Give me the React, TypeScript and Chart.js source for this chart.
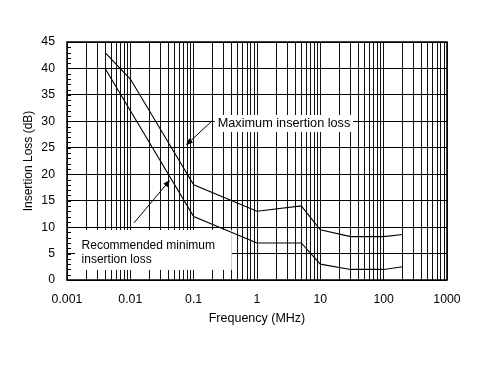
import { useEffect, useRef } from 'react';
import { Chart, registerables } from 'chart.js';

Chart.register(...registerables);

// Data (frequency in MHz, insertion loss in dB)
const maxFreq = [0.004, 0.01, 0.1, 1, 5, 10, 30, 100, 200];
const maxLoss = [43, 38, 18, 13, 14, 9.5, 8.2, 8.2, 8.6];
const minFreq = [0.004, 0.1, 1, 5, 10, 30, 100, 200];
const minLoss = [40, 12, 7, 7, 3, 2, 2, 2.5];

const xTickLabels = ['0.001', '0.01', '0.1', '1', '10', '100', '1000'];
const yTickLabels = ['0', '5', '10', '15', '20', '25', '30', '35', '40', '45'];

// Annotations (data coordinates)
const maxLabelText = ['Maximum insertion loss'];
const maxLabelBox = [0.215, 33, 31.2, 28.0]; // xFrom, xTo, yTop, yBottom
const maxLabelAnchor = [0.24, 29.6];
const maxArrow = [0.202, 30.25, 0.0757, 25.5]; // tail x,y -> head x,y

const minLabelText = ['Recommended minimum', 'insertion loss'];
const minLabelBox = [0.00134, 0.4, 9.45, 1.9];
const minLabelAnchor = [0.0017, 6.4, 3.9];
const minArrow = [0.01143, 10.8, 0.0423, 18.9];

const FONT = '"Liberation Sans", Arial, Helvetica, sans-serif';

function drawArrow(ctx: CanvasRenderingContext2D, x1: number, y1: number, x2: number, y2: number) {
  const ang = Math.atan2(y2 - y1, x2 - x1);
  const len = 7;
  const half = 2.8;
  ctx.beginPath();
  ctx.moveTo(x1, y1);
  ctx.lineTo(x2 - Math.cos(ang) * len * 0.8, y2 - Math.sin(ang) * len * 0.8);
  ctx.stroke();
  ctx.beginPath();
  ctx.moveTo(x2, y2);
  ctx.lineTo(x2 - Math.cos(ang) * len - Math.sin(ang) * half, y2 - Math.sin(ang) * len + Math.cos(ang) * half);
  ctx.lineTo(x2 - Math.cos(ang) * len + Math.sin(ang) * half, y2 - Math.sin(ang) * len - Math.cos(ang) * half);
  ctx.closePath();
  ctx.fill();
}

const annotPlugin = {
  id: 'annot',
  beforeDatasetsDraw(chart: any) {
    const { ctx, scales } = chart;
    const x = scales.x;
    const y = scales.y;
    ctx.save();
    ctx.fillStyle = '#ffffff';
    const boxes = [maxLabelBox, minLabelBox];
    for (const b of boxes) {
      const x1 = x.getPixelForValue(b[0]);
      const x2 = x.getPixelForValue(b[1]);
      const y1 = y.getPixelForValue(b[2]);
      const y2 = y.getPixelForValue(b[3]);
      ctx.fillRect(x1, y1, x2 - x1, y2 - y1);
    }
    ctx.fillStyle = '#000';
    ctx.textAlign = 'left';
    ctx.textBaseline = 'middle';
    ctx.font = `12.7px ${FONT}`;
    ctx.fillText(maxLabelText[0], x.getPixelForValue(maxLabelAnchor[0]), y.getPixelForValue(maxLabelAnchor[1]));
    ctx.font = `12px ${FONT}`;
    ctx.fillText(minLabelText[0], x.getPixelForValue(minLabelAnchor[0]), y.getPixelForValue(minLabelAnchor[1]));
    ctx.fillText(minLabelText[1], x.getPixelForValue(minLabelAnchor[0]), y.getPixelForValue(minLabelAnchor[2]));
    ctx.restore();
  },
  afterDatasetsDraw(chart: any) {
    const { ctx, scales, chartArea } = chart;
    const x = scales.x;
    const y = scales.y;
    ctx.save();
    ctx.strokeStyle = '#000';
    ctx.fillStyle = '#000';
    ctx.lineWidth = 1;
    for (const a of [maxArrow, minArrow]) {
      drawArrow(
        ctx,
        x.getPixelForValue(a[0]),
        y.getPixelForValue(a[1]),
        x.getPixelForValue(a[2]),
        y.getPixelForValue(a[3])
      );
    }
    // minor y ticks (every 1 dB) inside the left axis
    const yMax = Number(yTickLabels[yTickLabels.length - 1]);
    ctx.beginPath();
    for (let v = 0; v <= yMax; v += 1) {
      const py = Math.round(y.getPixelForValue(v)) + 0.5;
      ctx.moveTo(chartArea.left, py);
      ctx.lineTo(chartArea.left + 4, py);
    }
    ctx.stroke();
    // frame
    ctx.lineWidth = 1.5;
    ctx.strokeRect(chartArea.left, chartArea.top, chartArea.right - chartArea.left, chartArea.bottom - chartArea.top);
    ctx.restore();
  },
};

export default function App() {
  const canvasRef = useRef<HTMLCanvasElement | null>(null);

  useEffect(() => {
    document.body.style.margin = '0';
    const canvas = canvasRef.current;
    if (!canvas) return;

    const xMin = Number(xTickLabels[0]);
    const xMax = Number(xTickLabels[xTickLabels.length - 1]);

    const chart = new Chart(canvas, {
      type: 'line',
      data: {
        datasets: [
          {
            label: 'Maximum insertion loss',
            data: maxFreq.map((f, i) => ({ x: f, y: maxLoss[i] })),
            borderColor: '#000',
            borderWidth: 1.1,
            pointRadius: 0,
            tension: 0,
            fill: false,
          },
          {
            label: 'Recommended minimum insertion loss',
            data: minFreq.map((f, i) => ({ x: f, y: minLoss[i] })),
            borderColor: '#000',
            borderWidth: 1.1,
            pointRadius: 0,
            tension: 0,
            fill: false,
          },
        ],
      },
      options: {
        responsive: false,
        animation: false,
        layout: { padding: { top: 42, right: 57, left: 0, bottom: 0 } },
        plugins: {
          legend: { display: false },
          tooltip: { enabled: false },
        },
        scales: {
          x: {
            type: 'logarithmic',
            min: xMin,
            max: xMax,
            afterFit: (s: any) => {
              s.height = 91;
            },
            afterBuildTicks: (s: any) => {
              const ticks: { value: number }[] = [];
              const e0 = Math.round(Math.log10(xMin));
              const e1 = Math.round(Math.log10(xMax));
              for (let e = e0; e <= e1; e++) {
                for (let m = 1; m <= 9; m++) {
                  if (e === e1 && m > 1) break;
                  ticks.push({ value: m * Math.pow(10, e) });
                }
              }
              s.ticks = ticks;
            },
            border: { display: false },
            grid: {
              drawTicks: false,
              color: '#111',
              lineWidth: 1,
            },
            ticks: {
              autoSkip: false,
              maxRotation: 0,
              padding: 12,
              color: '#000',
              font: { family: FONT, size: 12.3 },
              callback: (value: any) => {
                const lg = Math.log10(Number(value));
                if (Math.abs(lg - Math.round(lg)) < 1e-6) {
                  const idx = Math.round(lg) - Math.round(Math.log10(xMin));
                  return xTickLabels[idx];
                }
                return '';
              },
            },
            title: {
              display: true,
              text: 'Frequency (MHz)',
              color: '#000',
              font: { family: FONT, size: 12.5 },
              padding: { top: 0, bottom: 45 },
            },
          },
          y: {
            type: 'linear',
            min: Number(yTickLabels[0]),
            max: Number(yTickLabels[yTickLabels.length - 1]),
            afterFit: (s: any) => {
              s.width = 67;
            },
            border: { display: false },
            grid: {
              drawTicks: false,
              color: '#000',
              lineWidth: 1,
            },
            ticks: {
              stepSize: 5,
              padding: 12,
              color: '#000',
              font: { family: FONT, size: 12.3 },
              callback: (value: any) => {
                const idx = yTickLabels.indexOf(String(value));
                return idx >= 0 ? yTickLabels[idx] : '';
              },
            },
            title: {
              display: true,
              text: 'Insertion Loss (dB)',
              color: '#000',
              font: { family: FONT, size: 12 },
              padding: { top: 21, bottom: 0 },
            },
          },
        },
      },
      plugins: [annotPlugin],
    } as any);

    return () => {
      chart.destroy();
    };
  }, []);

  return (
    <div style={{ width: 504, height: 371 }}>
      <canvas ref={canvasRef} width={504} height={371} style={{ display: 'block' }} />
    </div>
  );
}
